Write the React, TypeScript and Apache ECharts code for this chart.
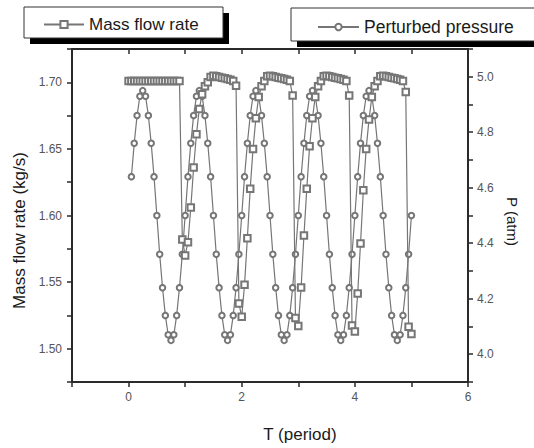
import React, { useEffect, useRef } from "react";
import * as echarts from "echarts";

// Sampling step of both curves (T, in periods)
const T_STEP = 0.05;

// Mass flow rate (kg/s), T = 0.00 ... 5.00
const massStart = 0;
const massFlow = [
  1.701, 1.701, 1.701, 1.701, 1.701, 1.701, 1.701, 1.701, 1.701, 1.701,
  1.701, 1.701, 1.701, 1.701, 1.701, 1.701, 1.701, 1.701, 1.701,
  1.582, 1.570, 1.580, 1.606, 1.636, 1.661, 1.680, 1.691, 1.697, 1.700,
  1.704, 1.705, 1.7045, 1.704, 1.7035, 1.703, 1.7025, 1.702, 1.701, 1.6975,
  1.534, 1.524, 1.548, 1.583, 1.620, 1.650, 1.673, 1.689, 1.697, 1.701,
  1.7045, 1.705, 1.7045, 1.704, 1.7035, 1.703, 1.7025, 1.702, 1.701, 1.690,
  1.523, 1.517, 1.546, 1.585, 1.620, 1.652, 1.673, 1.689, 1.697, 1.701,
  1.7045, 1.705, 1.7045, 1.704, 1.7035, 1.703, 1.7025, 1.702, 1.701, 1.690,
  1.5175, 1.513, 1.5415, 1.579, 1.619, 1.650, 1.672, 1.689, 1.697, 1.701,
  1.7045, 1.705, 1.7045, 1.704, 1.7035, 1.703, 1.7025, 1.702, 1.701, 1.6927,
  1.5165, 1.511,
];

// Perturbed pressure (atm), T = 0.05 ... 5.00
const pressureStart = 0.05;
const pressure = [
  4.64, 4.76, 4.86, 4.93, 4.95, 4.93, 4.86, 4.76, 4.64, 4.50,
  4.36, 4.24, 4.14, 4.07, 4.05, 4.07, 4.14, 4.24, 4.36, 4.50,
  4.64, 4.76, 4.86, 4.93, 4.95, 4.93, 4.86, 4.76, 4.64, 4.50,
  4.36, 4.24, 4.14, 4.07, 4.05, 4.07, 4.14, 4.24, 4.36, 4.50,
  4.64, 4.76, 4.86, 4.93, 4.95, 4.93, 4.86, 4.76, 4.64, 4.50,
  4.36, 4.24, 4.14, 4.07, 4.05, 4.07, 4.14, 4.24, 4.36, 4.50,
  4.64, 4.76, 4.86, 4.93, 4.95, 4.93, 4.86, 4.76, 4.64, 4.50,
  4.36, 4.24, 4.14, 4.07, 4.05, 4.07, 4.14, 4.24, 4.36, 4.50,
  4.64, 4.76, 4.86, 4.93, 4.95, 4.93, 4.86, 4.76, 4.64, 4.50,
  4.36, 4.24, 4.14, 4.07, 4.05, 4.07, 4.14, 4.24, 4.36, 4.50,
];

// Tick labels
const xTickLabels = [0, 2, 4, 6];
const massTickLabels = [1.5, 1.55, 1.6, 1.65, 1.7];
const pressureTickLabels = [4.0, 4.2, 4.4, 4.6, 4.8, 5.0];

const FONT = "'Liberation Sans', Arial, Helvetica, sans-serif";
const AXIS_COLOR = "#2a2a2a";
const LABEL_COLOR = "#555555";
const SERIES_COLOR = "#767676";

const has = (list: number[], v: number) => list.some((t) => Math.abs(t - v) < 1e-6);

export default function App() {
  const ref = useRef<HTMLDivElement>(null);

  useEffect(() => {
    document.body.style.margin = "0";
    const chart = echarts.init(ref.current!, null, { renderer: "svg" });

    const massData = massFlow.map((v, i) => [+(massStart + i * T_STEP).toFixed(2), v]);
    const pressureData = pressure.map((v, i) => [+(pressureStart + i * T_STEP).toFixed(2), v]);

    const axisLine = { show: true, onZero: false, lineStyle: { color: AXIS_COLOR, width: 2 } };
    const tickStyle = { color: AXIS_COLOR, width: 1.5 };

    chart.setOption({
      animation: false,
      backgroundColor: "#ffffff",
      textStyle: { fontFamily: FONT },
      grid: { left: 72, right: 66, top: 49, bottom: 56, containLabel: false },
      graphic: [
        { type: "rect", z: 0, shape: { x: 30, y: 13, width: 199, height: 31 }, style: { fill: "#000" } },
        { type: "rect", z: 1, shape: { x: 24, y: 7, width: 199, height: 31 }, style: { fill: "#fff", stroke: "#333", lineWidth: 1 } },
        { type: "rect", z: 0, shape: { x: 297, y: 14, width: 260, height: 33 }, style: { fill: "#000" } },
        { type: "rect", z: 1, shape: { x: 291, y: 8, width: 260, height: 33 }, style: { fill: "#fff", stroke: "#333", lineWidth: 1 } },
      ],
      legend: [
        {
          data: ["Mass flow rate"],
          left: 43,
          top: 16,
          padding: 0,
          itemWidth: 40,
          itemHeight: 9,
          z: 10,
          textStyle: { fontSize: 17, color: "#1a1a1a", fontFamily: FONT },
        },
        {
          data: ["Perturbed pressure"],
          left: 317,
          top: 18,
          padding: 0,
          itemWidth: 41,
          itemHeight: 8,
          z: 10,
          textStyle: { fontSize: 17.5, color: "#1a1a1a", fontFamily: FONT },
        },
      ],
      xAxis: [
        {
          type: "value",
          position: "bottom",
          min: -1,
          max: 6,
          interval: 1,
          axisLine,
          axisTick: { show: true, inside: false, length: 5, lineStyle: tickStyle },
          axisLabel: {
            margin: 9,
            color: LABEL_COLOR,
            fontSize: 12,
            fontFamily: FONT,
            formatter: (v: number) => (has(xTickLabels, v) ? String(v) : ""),
          },
          splitLine: { show: false },
          name: "T (period)",
          nameLocation: "middle",
          nameGap: 44,
          nameTextStyle: { fontSize: 17, color: "#1a1a1a", fontFamily: FONT, padding: [0, 0, 0, 60] },
        },
        {
          type: "value",
          position: "top",
          min: -1,
          max: 6,
          interval: 1,
          axisLine,
          axisTick: { show: true, inside: true, length: 5, lineStyle: tickStyle },
          axisLabel: { show: false },
          splitLine: { show: false },
        },
      ],
      yAxis: [
        {
          type: "value",
          position: "left",
          min: 1.475,
          max: 1.725,
          interval: 0.025,
          axisLine,
          axisTick: { show: true, inside: false, length: 5, lineStyle: tickStyle },
          axisLabel: {
            margin: 10,
            color: LABEL_COLOR,
            fontSize: 12,
            fontFamily: FONT,
            formatter: (v: number) => (has(massTickLabels, v) ? v.toFixed(2) : ""),
          },
          splitLine: { show: false },
          name: "Mass flow rate (kg/s)",
          nameLocation: "middle",
          nameGap: 40,
          nameTextStyle: { fontSize: 17, color: "#1a1a1a", fontFamily: FONT, padding: [0, 30, 0, 0] },
        },
        {
          type: "value",
          position: "right",
          min: 3.9,
          max: 5.1,
          interval: 0.1,
          axisLine,
          axisTick: { show: true, inside: false, length: 5, lineStyle: tickStyle },
          axisLabel: {
            margin: 9,
            color: LABEL_COLOR,
            fontSize: 12,
            fontFamily: FONT,
            formatter: (v: number) => (has(pressureTickLabels, v) ? v.toFixed(1) : ""),
          },
          splitLine: { show: false },
          name: "P (atm)",
          nameLocation: "middle",
          nameRotate: -90,
          nameGap: 28,
          nameTextStyle: { fontSize: 15, color: "#1a1a1a", fontFamily: FONT, padding: [0, 0, 0, 12] },
        },
      ],
      series: [
        {
          name: "Mass flow rate",
          type: "line",
          xAxisIndex: 0,
          yAxisIndex: 0,
          data: massData,
          symbol: "emptyRect",
          symbolSize: 6.5,
          showAllSymbol: true,
          lineStyle: { color: SERIES_COLOR, width: 1.2 },
          itemStyle: { color: SERIES_COLOR, borderColor: SERIES_COLOR, borderWidth: 1 },
          z: 3,
        },
        {
          name: "Perturbed pressure",
          type: "line",
          xAxisIndex: 0,
          yAxisIndex: 1,
          data: pressureData,
          symbol: "emptyCircle",
          symbolSize: 5.5,
          showAllSymbol: true,
          lineStyle: { color: SERIES_COLOR, width: 1.2 },
          itemStyle: { color: SERIES_COLOR, borderColor: SERIES_COLOR, borderWidth: 1 },
          z: 2,
        },
      ],
    });

    return () => chart.dispose();
  }, []);

  return <div ref={ref} style={{ width: 534, height: 448 }} />;
}
